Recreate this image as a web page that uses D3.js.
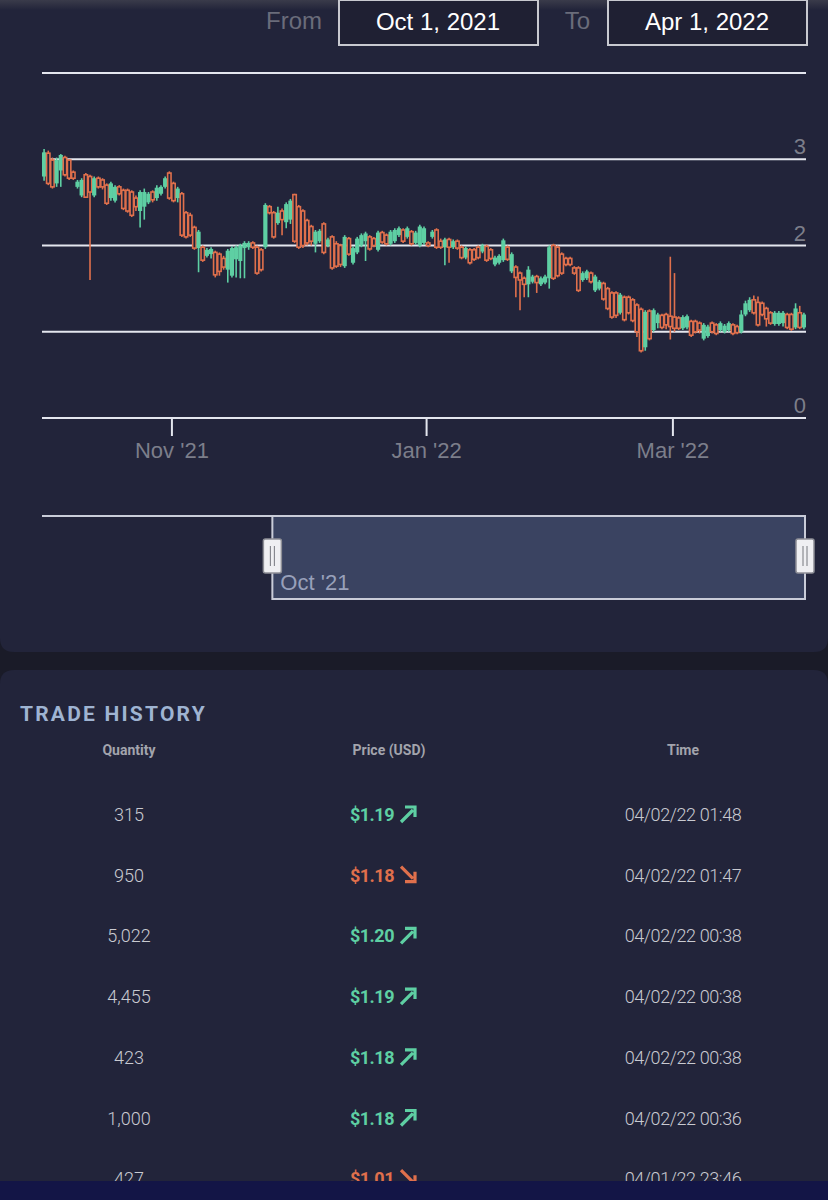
<!DOCTYPE html>
<html>
<head>
<meta charset="utf-8">
<script src="https://cdn.jsdelivr.net/npm/d3@7/dist/d3.min.js"></script>
<style>
  html, body { margin: 0; padding: 0; background: #1a1b28; }
  svg { display: block; }
</style>
</head>
<body>
<svg id="chart" width="828" height="1200"></svg>
<script>
// ---------- DATA ----------
const fromLabel = "Oct 1, 2021";
const toLabel = "Apr 1, 2022";
const yTicks = [0, 1, 2, 3, 4];
const yTickLabels = ["0", "1", "2", "3", ""];
const xTickDates = ["2021-11-01", "2022-01-01", "2022-03-01"];
const startDate = "2021-10-01";
const endDate = "2022-04-02";
const navStart = "2021-07-14";

const open = [2.80,3.07,2.99,2.72,2.87,3.02,2.99,2.85,2.68,2.58, 2.82,2.80,2.58,2.78,2.76,2.70,2.55,2.52,2.68,2.64,
 2.64,2.62,2.55,2.40,2.45,2.50,2.62,2.55,2.60,2.68, 2.84,2.72,2.55,2.60,2.38,2.35,2.21,1.97,1.98,1.88,
 1.90,1.92,1.90,1.85,1.72,1.65,1.84,1.82,1.97,1.98, 2.03,1.98,1.95,1.98,2.45,2.38,2.26,2.40,2.27,2.30,
 2.59,2.45,2.40,2.29,2.22,2.02,2.05,2.25,2.00,2.10, 2.02,2.00,1.76,2.08,1.80,1.92,2.00,2.05,2.10,2.08,
 1.95,2.15,2.12,2.02,2.05,2.12,2.18,2.10,2.16,2.03, 2.00,2.03,2.03,2.10,2.18,2.05,1.98,2.07,1.98,2.05,
 1.98,1.86,1.95,1.95,1.98,1.93,1.99,1.95,1.78,1.80, 1.83,1.98,1.70,1.75,1.68,1.62,1.55,1.58,1.64,1.55,
 1.57,1.62,2.00,1.98,1.90,1.85,1.85,1.74,1.74,1.60, 1.62,1.68,1.48,1.50,1.56,1.50,1.45,1.45,1.22,1.40,
 1.40,1.37,1.31,1.26,0.82,1.24,1.02,1.10,1.19,1.20, 1.18,1.17,1.16,1.04,1.05,1.12,1.12,1.10,0.92,0.95,
 1.10,1.08,1.02,1.00,1.02,1.08,1.06,1.00,1.20,1.25, 1.37,1.34,1.33,1.27,1.22,1.09,1.09,1.10,1.20,1.20,
 1.05,1.22,1.05];
const close = [3.08,2.72,2.68,2.99,3.05,2.82,2.78,2.78,2.74,2.76, 2.56,2.62,2.78,2.68,2.68,2.49,2.72,2.68,2.60,2.43,
 2.40,2.35,2.45,2.62,2.62,2.60,2.53,2.67,2.68,2.78, 2.55,2.52,2.66,2.12,2.10,2.12,1.97,2.16,1.83,1.95,
 1.96,1.66,1.70,1.75,1.94,1.97,1.98,2.00,2.03,2.03, 1.98,1.68,1.72,2.47,2.38,2.10,2.38,2.30,2.48,2.52,
 2.05,1.98,2.00,2.03,2.05,2.16,2.17,1.92,2.07,1.74, 1.76,1.78,2.10,1.90,1.97,2.08,2.12,2.14,1.96,2.00,
 2.15,2.04,2.02,2.16,2.18,2.20,2.05,2.20,2.02,2.15, 2.22,2.20,2.00,2.16,1.98,1.98,2.07,1.98,2.05,1.97,
 1.86,1.97,1.80,1.84,1.86,2.00,1.83,1.85,1.86,1.88, 2.06,1.84,1.90,1.63,1.60,1.55,1.72,1.64,1.57,1.62,
 1.64,1.98,1.62,1.65,1.68,1.78,1.78,1.68,1.48,1.68, 1.70,1.58,1.64,1.58,1.38,1.27,1.17,1.19,1.43,1.14,
 1.22,1.13,1.00,0.78,1.23,0.92,1.25,1.20,1.05,1.08, 1.06,1.04,1.04,1.17,1.18,0.96,1.00,1.02,1.08,1.06,
 1.00,0.98,1.10,1.07,1.10,0.98,0.99,1.20,1.33,1.37, 1.22,1.08,1.20,1.15,1.10,1.22,1.22,1.22,1.05,1.03,
 1.27,1.05,1.20];
const high = [3.12,3.10,3.02,3.02,3.06,3.04,3.00,2.87,2.76,2.78, 2.84,2.82,2.80,2.80,2.78,2.72,2.74,2.70,2.70,2.66,
 2.66,2.64,2.58,2.64,2.66,2.62,2.64,2.70,2.70,2.80, 2.86,2.74,2.68,2.62,2.40,2.38,2.23,2.18,2.00,1.97,
 1.98,1.94,1.92,1.88,1.96,1.99,2.00,2.02,2.05,2.05, 2.05,2.00,1.97,2.49,2.47,2.40,2.45,2.43,2.50,2.54,
 2.60,2.47,2.42,2.31,2.24,2.18,2.19,2.27,2.09,2.12, 2.05,2.02,2.12,2.10,1.99,2.10,2.14,2.16,2.12,2.10,
 2.17,2.17,2.14,2.18,2.20,2.22,2.20,2.22,2.18,2.17, 2.24,2.22,2.05,2.18,2.20,2.08,2.09,2.09,2.07,2.07,
 2.00,1.99,1.97,1.97,2.00,2.02,2.01,1.97,1.88,1.90, 2.08,2.00,1.92,1.77,1.70,1.64,1.76,1.66,1.66,1.64,
 1.66,2.00,2.02,2.00,1.92,1.87,1.87,1.76,1.76,1.70, 1.72,1.70,1.66,1.60,1.58,1.52,1.47,1.47,1.45,1.42,
 1.42,1.39,1.33,1.28,1.25,1.26,1.27,1.22,1.21,1.22, 1.87,1.68,1.18,1.19,1.20,1.14,1.14,1.12,1.10,1.08,
 1.12,1.10,1.12,1.09,1.12,1.10,1.08,1.25,1.36,1.40, 1.42,1.41,1.35,1.29,1.24,1.24,1.24,1.24,1.22,1.22,
 1.33,1.30,1.22];
const low = [2.75,2.70,2.66,2.68,2.68,2.80,2.76,2.76,2.66,2.56, 2.55,1.60,2.56,2.66,2.65,2.47,2.52,2.50,2.58,2.41,
 2.38,2.33,2.40,2.21,2.30,2.48,2.50,2.52,2.58,2.66, 2.53,2.50,2.50,2.10,2.08,2.10,1.95,1.69,1.81,1.86,
 1.85,1.63,1.65,1.72,1.57,1.63,1.63,1.62,1.62,1.95, 1.96,1.66,1.70,1.96,2.36,2.08,2.24,2.12,2.20,2.25,
 2.03,1.96,1.97,2.00,2.00,1.92,2.03,1.90,1.98,1.72, 1.74,1.75,1.74,1.88,1.78,1.90,1.98,1.82,1.94,1.98,
 1.93,2.02,2.00,2.00,2.03,2.10,2.03,2.08,2.00,2.01, 1.98,2.01,1.98,2.08,1.96,1.96,1.77,1.80,1.96,1.95,
 1.84,1.84,1.78,1.82,1.84,1.91,1.81,1.83,1.76,1.78, 1.81,1.82,1.68,1.40,1.25,1.40,1.40,1.56,1.45,1.53,
 1.55,1.50,1.60,1.63,1.66,1.76,1.76,1.66,1.46,1.58, 1.60,1.56,1.46,1.48,1.36,1.25,1.15,1.16,1.20,1.12,
 1.20,1.11,0.94,0.76,0.78,0.90,1.00,1.04,1.03,1.03, 0.91,1.00,1.02,1.02,1.03,0.94,0.98,0.98,0.90,0.93,
 0.98,0.96,1.00,0.98,1.00,0.96,0.97,0.98,1.18,1.23, 1.20,1.06,1.18,1.06,1.08,1.07,1.07,1.06,1.03,1.01,
 1.03,1.03,1.03];

const tradeQty = ["315", "950", "5,022", "4,455", "423", "1,000", "427"];
const tradePrice = ["$1.19", "$1.18", "$1.20", "$1.19", "$1.18", "$1.18", "$1.01"];
const tradeDir = ["up", "down", "up", "up", "up", "up", "down"];
const tradeTime = ["04/02/22 01:48", "04/02/22 01:47", "04/02/22 00:38", "04/02/22 00:38", "04/02/22 00:38", "04/02/22 00:36", "04/01/22 23:46"];
const tableHeaders = ["Quantity", "Price (USD)", "Time"];

// ---------- STYLE ----------
const C = {
  page: "#1a1b28", card: "#22243a", grid: "#e4e6ee", label: "#7c7e8a",
  up: "#5ecfa3", down: "#e0704c", navFill: "#3a4361", navStroke: "#c9ccd8",
  title: "#9fb4d2", head: "#a3a4ad", cell: "#c9cad1", bottomBar: "#131546"
};
const chartFont = "'Liberation Sans', Arial, sans-serif";
const tableFont = "Roboto, 'Noto Sans', sans-serif";

const svg = d3.select("#chart");
const parse = d3.timeParse("%Y-%m-%d");

// backgrounds
svg.append("rect").attr("x", 0).attr("y", 0).attr("width", 828).attr("height", 1200).attr("fill", C.page);
svg.append("path").attr("d", "M0,0 H828 V638 Q828,652 814,652 H14 Q0,652 0,638 Z").attr("fill", C.card);
const defs = svg.append("defs");
const g1 = defs.append("linearGradient").attr("id", "topshade").attr("x1", 0).attr("y1", 0).attr("x2", 0).attr("y2", 1);
g1.append("stop").attr("offset", 0).attr("stop-color", "#3a3b4a");
g1.append("stop").attr("offset", 1).attr("stop-color", C.card);
svg.append("rect").attr("x", 0).attr("y", 0).attr("width", 828).attr("height", 10).attr("fill", "url(#topshade)");
svg.append("path").attr("d", "M0,684 Q0,670 14,670 H814 Q828,670 828,684 V1200 H0 Z").attr("fill", C.card);

// ---------- header inputs ----------
svg.append("text").attr("x", 322).attr("y", 29).attr("text-anchor", "end")
  .attr("font-family", chartFont).attr("font-size", 24).attr("fill", "#6a6c7a").text("From");
svg.append("rect").attr("x", 339).attr("y", 0).attr("width", 199).attr("height", 45)
  .attr("fill", "#1f2033").attr("stroke", "#c8c9d0").attr("stroke-width", 2);
svg.append("text").attr("x", 438).attr("y", 30).attr("text-anchor", "middle")
  .attr("font-family", chartFont).attr("font-size", 24).attr("fill", "#ffffff").text(fromLabel);
svg.append("text").attr("x", 590).attr("y", 29).attr("text-anchor", "end")
  .attr("font-family", chartFont).attr("font-size", 24).attr("fill", "#6a6c7a").text("To");
svg.append("rect").attr("x", 608).attr("y", 0).attr("width", 199).attr("height", 45)
  .attr("fill", "#1f2033").attr("stroke", "#c8c9d0").attr("stroke-width", 2);
svg.append("text").attr("x", 707).attr("y", 30).attr("text-anchor", "middle")
  .attr("font-family", chartFont).attr("font-size", 24).attr("fill", "#ffffff").text(toLabel);

// ---------- main chart ----------
const x = d3.scaleTime().domain([parse(startDate), parse(endDate)]).range([42, 806]);
const y = d3.scaleLinear().domain([0, 4]).range([418, 73]);
const days = d3.timeDay.range(parse(startDate), d3.timeDay.offset(parse(startDate), open.length));
const candles = days.map((d, i) => ({ date: d, o: open[i], h: high[i], l: low[i], c: close[i] }));

// grid lines
const gridG = svg.append("g");
gridG.selectAll("line").data(yTicks).join("line")
  .attr("x1", 42).attr("x2", 806).attr("y1", d => y(d)).attr("y2", d => y(d))
  .attr("stroke", C.grid).attr("stroke-width", 2);
gridG.selectAll("text").data(yTicks).join("text")
  .attr("x", 806).attr("y", d => y(d) - 5).attr("text-anchor", "end")
  .attr("font-family", chartFont).attr("font-size", 22).attr("fill", C.label)
  .text((d, i) => yTickLabels[i]);

// x axis
const xAxis = d3.axisBottom(x).tickValues(xTickDates.map(parse)).tickFormat(d3.timeFormat("%b '%y")).tickSize(18).tickPadding(6);
const axG = svg.append("g").attr("transform", "translate(0,418)").call(xAxis);
axG.select(".domain").remove();
axG.selectAll(".tick line").attr("stroke", C.grid).attr("stroke-width", 2);
axG.selectAll(".tick text").attr("font-family", chartFont).attr("font-size", 22).attr("fill", C.label);

// candles
const cg = svg.append("g");
const cx = d => x(d3.timeHour.offset(d.date, 12));
const isUp = d => d.c >= d.o;
cg.selectAll("line.wick").data(candles).join("line").attr("class", "wick")
  .attr("x1", cx).attr("x2", cx).attr("y1", d => y(d.h)).attr("y2", d => y(d.l))
  .attr("stroke", d => isUp(d) ? C.up : C.down).attr("stroke-width", 1.6);
cg.selectAll("rect.body").data(candles).join("rect").attr("class", "body")
  .attr("x", d => cx(d) - (isUp(d) ? 2.1 : 1.7))
  .attr("width", d => isUp(d) ? 4.2 : 3.4)
  .attr("y", d => y(Math.max(d.o, d.c)))
  .attr("height", d => Math.max(1, Math.abs(y(d.o) - y(d.c))))
  .attr("fill", d => isUp(d) ? C.up : C.card)
  .attr("stroke", d => isUp(d) ? "none" : C.down)
  .attr("stroke-width", 1.6);

// ---------- navigator ----------
const xn = d3.scaleTime().domain([parse(navStart), parse(endDate)]).range([42, 806]);
svg.append("line").attr("x1", 42).attr("x2", 806).attr("y1", 516).attr("y2", 516)
  .attr("stroke", C.navStroke).attr("stroke-width", 2);
const sx0 = xn(parse(startDate)), sx1 = xn(parse(endDate)) - 1;
svg.append("rect").attr("x", sx0).attr("y", 516).attr("width", sx1 - sx0).attr("height", 83)
  .attr("fill", C.navFill).attr("stroke", C.navStroke).attr("stroke-width", 2);
svg.append("text").attr("x", sx0 + 8).attr("y", 590)
  .attr("font-family", chartFont).attr("font-size", 22).attr("fill", "#98a0ba")
  .text(d3.timeFormat("%b '%y")(parse(startDate)));
[sx0, sx1].forEach(hx => {
  const hg = svg.append("g").attr("transform", `translate(${hx},556)`);
  hg.append("rect").attr("x", -9).attr("y", -17).attr("width", 18).attr("height", 34).attr("rx", 2)
    .attr("fill", "#efeff2").attr("stroke", "#8e8f96").attr("stroke-width", 1.5);
  hg.append("line").attr("x1", -2).attr("x2", -2).attr("y1", -10).attr("y2", 10).attr("stroke", "#77787f").attr("stroke-width", 1);
  hg.append("line").attr("x1", 2).attr("x2", 2).attr("y1", -10).attr("y2", 10).attr("stroke", "#77787f").attr("stroke-width", 1);
});

// ---------- trade history ----------
svg.append("text").attr("x", 20).attr("y", 721)
  .attr("font-family", tableFont).attr("font-weight", 700).attr("font-size", 21)
  .attr("letter-spacing", 2.2).attr("fill", C.title).text("TRADE HISTORY");
const colX = [129, 389, 683];
svg.selectAll("text.head").data(tableHeaders).join("text").attr("class", "head")
  .attr("x", (d, i) => colX[i]).attr("y", 755).attr("text-anchor", "middle")
  .attr("font-family", tableFont).attr("font-weight", 700).attr("font-size", 14)
  .attr("fill", C.head).text(d => d);

const rowY = d3.scaleLinear().domain([0, 1]).range([814, 874.7]);
const rows = tradeQty.map((q, i) => ({ q, p: tradePrice[i], dir: tradeDir[i], t: tradeTime[i], i }));
const rg = svg.selectAll("g.row").data(rows).join("g").attr("class", "row")
  .attr("transform", d => `translate(0,${rowY(d.i)})`);
rg.append("text").attr("x", colX[0]).attr("y", 7).attr("text-anchor", "middle")
  .attr("font-family", tableFont).attr("font-weight", 300).attr("font-size", 18).attr("fill", C.cell).text(d => d.q);
rg.append("text").attr("x", 394).attr("y", 7).attr("text-anchor", "end")
  .attr("font-family", tableFont).attr("font-weight", 700).attr("font-size", 18).attr("letter-spacing", -0.5)
  .attr("fill", d => d.dir === "up" ? C.up : C.down).text(d => d.p);
rg.append("path")
  .attr("transform", "translate(408,0)")
  .attr("d", d => d.dir === "up"
    ? "M-7,8 L5,-4 M-3,-7 H7 V3"
    : "M-7,-8 L5,4 M-3,7 H7 V-3")
  .attr("fill", "none").attr("stroke", d => d.dir === "up" ? C.up : C.down)
  .attr("stroke-width", 3.2).attr("stroke-linejoin", "miter").attr("stroke-linecap", "butt");
rg.append("text").attr("x", colX[2]).attr("y", 7).attr("text-anchor", "middle")
  .attr("font-family", tableFont).attr("font-weight", 300).attr("font-size", 18).attr("letter-spacing", -0.4)
  .attr("fill", C.cell).text(d => d.t);

// bottom bar
svg.append("rect").attr("x", 0).attr("y", 1181).attr("width", 828).attr("height", 19).attr("fill", C.bottomBar);
</script>
</body>
</html>
